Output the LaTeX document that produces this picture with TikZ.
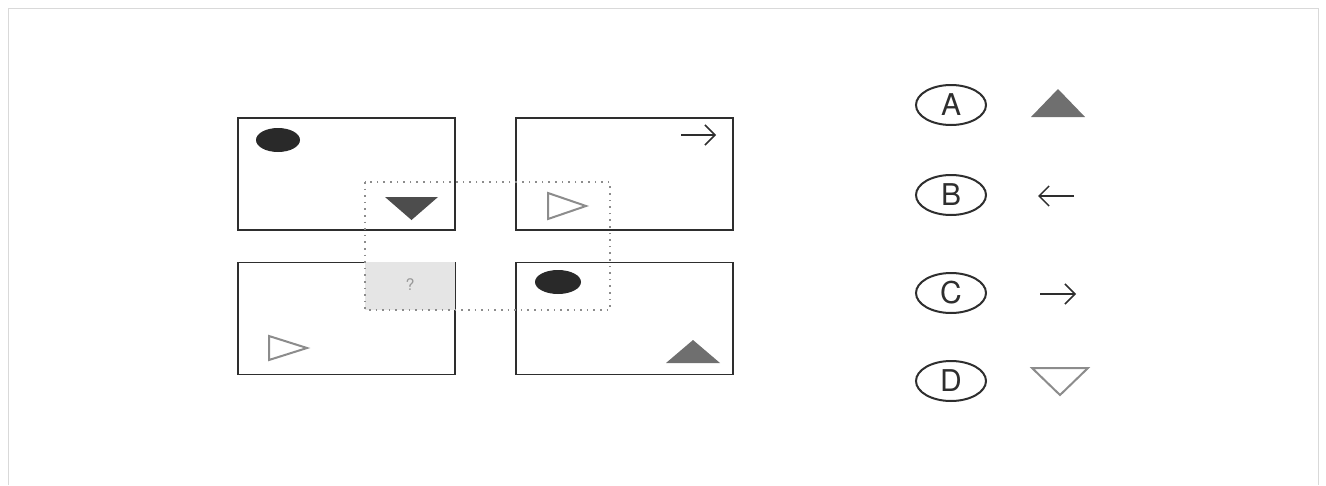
\documentclass[tikz,border=0pt]{standalone}
\usepackage{fontspec}
\setsansfont{TeX Gyre Heros}
\usetikzlibrary{arrows.meta,shapes.geometric}
\definecolor{ink}{HTML}{2E2E2E}
\definecolor{shapegray}{HTML}{6F6F6F}
\definecolor{linegray}{HTML}{8C8C8C}

\begin{document}
\begin{tikzpicture}[x=1pt,y=-1pt,
    panel/.style={draw=ink,line width=1.6pt,minimum width=217pt,minimum height=112pt,inner sep=0pt},
    choice/.style={draw=ink,ellipse,line width=2pt,minimum width=70pt,minimum height=40pt,inner sep=0pt,font=\sffamily\fontsize{30}{30}\selectfont,text=ink},
    pointer/.style={ink,line width=1.5pt,-{Straight Barb[length=10pt,width=20pt,line width=1.5pt]}},
    hollow/.style={linegray,line width=2pt,line join=miter},
    blob/.style={fill=ink!90!black,draw=none}]
        \useasboundingbox (0,0) rectangle (1326,485);
        \draw[black!15,line width=.6pt](8, 485) -- (8, 8) -- (1318, 8) -- (1318, 485);
        % four panels
        \node[panel] (tl) at (346.5, 174) {};
        \node[panel] (tr) at (624.5, 174) {};
        \node[panel] (bl) at (346.5, 318.5) {};
        \node[panel] (br) at (624.5, 318.5) {};
        % missing piece
        \fill[black!10](365, 262) rectangle (455, 310);
        \node[text=black!40,font=\sffamily\fontsize{16}{16}\selectfont] (ask) at (410, 285) {?};
        \draw[linegray,line width=1.6pt,dash pattern=on 1.6pt off 5pt](365, 182) rectangle (610, 310);
        % top left
        \fill[blob](278, 140) ellipse[x radius=22, y radius=12];
        \fill[ink!85](385, 197) -- (438, 197) -- (411.5, 220) -- cycle;
        % top right
        \coordinate (trs) at (681, 135);
        \coordinate (tre) at (716, 135);
        \draw[pointer](trs) -- (tre);
        \draw[hollow](548, 193) -- (586, 206) -- (548, 219) -- cycle;
        % bottom left
        \draw[hollow](269, 336) -- (307, 348) -- (269, 360) -- cycle;
        % bottom right
        \fill[blob](558, 282) ellipse[x radius=23, y radius=12];
        \fill[shapegray](666, 363) -- (720, 363) -- (693, 340) -- cycle;
        % answers
        \node[choice] (ca) at (951, 105) {A};
        \node[choice] (cb) at (951, 195) {B};
        \node[choice] (cc) at (951, 293) {C};
        \node[choice] (cd) at (951, 381) {D};
        \fill[shapegray](1031, 117) -- (1085, 117) -- (1058, 89) -- cycle;
        \coordinate (bs) at (1074, 196);
        \coordinate (be) at (1038, 196);
        \draw[pointer](bs) -- (be);
        \coordinate (cs) at (1040, 294);
        \coordinate (ce) at (1076, 294);
        \draw[pointer](cs) -- (ce);
        \draw[hollow](1032, 368) -- (1088, 368) -- (1060, 395) -- cycle;
    \end{tikzpicture}
\end{document}
